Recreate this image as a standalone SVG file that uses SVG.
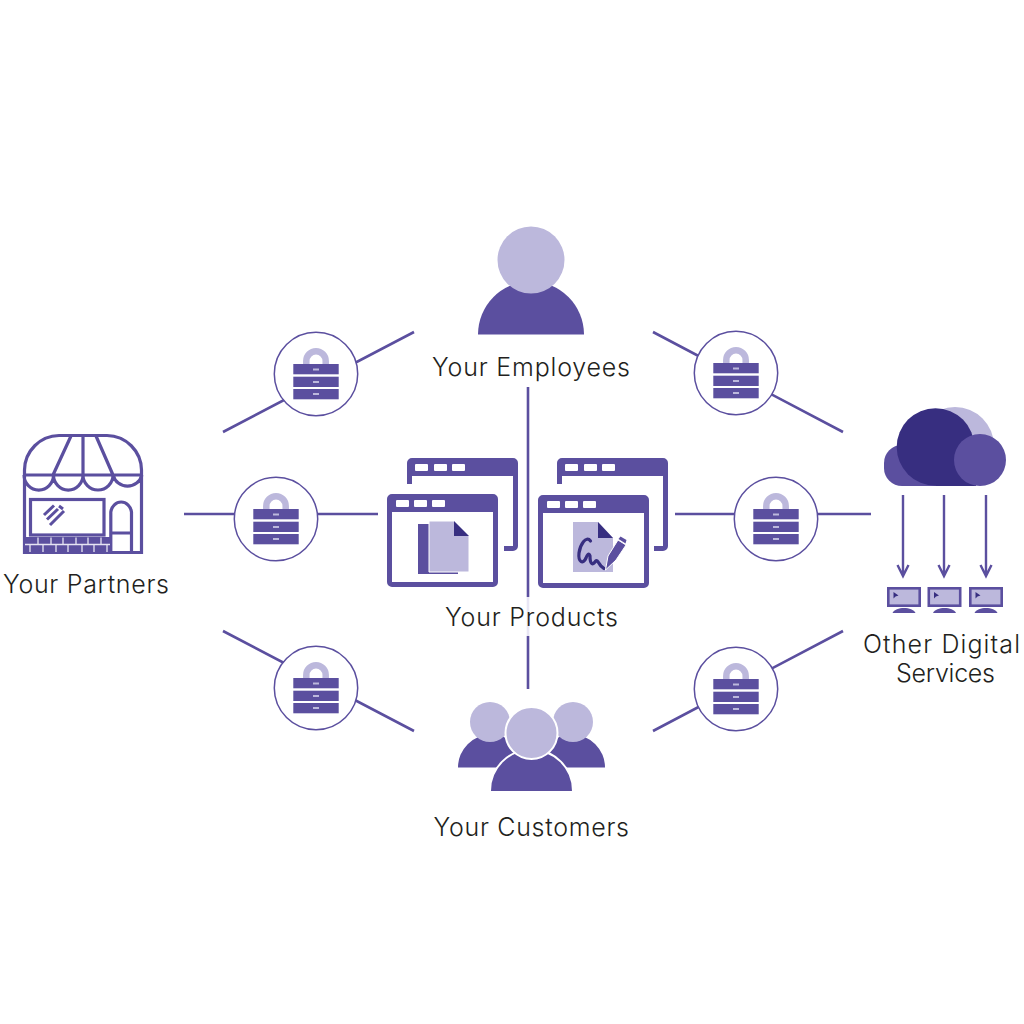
<svg xmlns="http://www.w3.org/2000/svg" width="1024" height="1024" viewBox="0 0 1024 1024">
<style>
.m{fill:#5b4f9f}.l{fill:#bcb8dc}.d{fill:#372e80}.w{fill:#fff}
.c{fill:none;stroke:#5b4f9f;stroke-width:2.600}
.s{fill:none;stroke:#5b4f9f;stroke-width:3.200}
.r{fill:#fff;stroke:#5b4f9f;stroke-width:1.500}
.t{font-family:"Inter","Liberation Sans",sans-serif;font-weight:300;font-size:25px;fill:#231f20;text-anchor:start}
</style>
<defs>
<g id="lock">
<path d="M-9.700 -4V-13A9.700 9.700 0 0 1 9.700 -13V-4" fill="none" stroke="#bcb8dc" stroke-width="6.500"/>
<rect class="m" x="-22.700" y="-10" width="45.400" height="10.300"/><rect class="m" x="-22.700" y="2.700" width="45.400" height="10.300"/><rect class="m" x="-22.700" y="15" width="45.400" height="10.300"/>
<rect class="l" x="-3" y="-5.500" width="6" height="2"/><rect class="l" x="-3" y="7" width="6" height="2"/><rect class="l" x="-3" y="19" width="6" height="2"/>
</g>
<g id="win">
<path class="m" fill-rule="evenodd" d="M5 0H106a5 5 0 0 1 5 5V88a5 5 0 0 1 -5 5H5a5 5 0 0 1 -5 -5V5a5 5 0 0 1 5 -5ZM5 18V88H106V18Z"/>
<rect class="w" x="9" y="6" width="13" height="7" rx="1"/><rect class="w" x="27" y="6" width="13" height="7" rx="1"/><rect class="w" x="45" y="6" width="13" height="7" rx="1"/>
</g>
<g id="winb">
<path class="m" d="M0 26V5a5 5 0 0 1 5 -5H106a5 5 0 0 1 5 5V88a5 5 0 0 1 -5 5H97V88H106V18H5V26Z"/>
<rect class="w" x="8" y="6" width="13" height="7" rx="1"/><rect class="w" x="27" y="6" width="13" height="7" rx="1"/><rect class="w" x="45" y="6" width="13" height="7" rx="1"/>
</g>
<g id="mon">
<rect x="1.300" y="1.300" width="31.400" height="17.400" fill="#bcb8dc" stroke="#5b4f9f" stroke-width="2.600"/>
<path class="d" d="M6.500 5V11.500L8.500 9.500L11.500 8.500Z"/>
<path class="m" d="M5.500 26C7 22.500 12 21 17 21S27 22.500 28.500 26Z"/>
</g>
</defs>
<rect width="1024" height="1024" fill="#fff"/>
<g id="connectors" class="c">
<path d="M223 432L414 332M653 332L843 432M223 631L414 731M653 731L843 631M184 514H378M675 514H871M528 387V597M528 636V689"/>
<path d="M528 597V636" style="stroke:#e8e6f4"/>
<path d="M903 495V575M944 495V575M986 495V575M897.500 565L903 576L908.500 565M938.500 565L944 576L949.500 565M980.500 565L986 576L991.500 565" style="stroke-width:2.400"/>
</g>
<g id="lock-nw"><circle class="r" cx="316" cy="374" r="41.700"/><use href="#lock" x="316" y="374"/></g>
<g id="lock-ne"><circle class="r" cx="736" cy="373" r="41.700"/><use href="#lock" x="736" y="373"/></g>
<g id="lock-w"><circle class="r" cx="276" cy="519" r="41.700"/><use href="#lock" x="276" y="519"/></g>
<g id="lock-e"><circle class="r" cx="776" cy="519" r="41.700"/><use href="#lock" x="776" y="519"/></g>
<g id="lock-sw"><circle class="r" cx="316" cy="688" r="41.700"/><use href="#lock" x="316" y="688"/></g>
<g id="lock-se"><circle class="r" cx="736" cy="689" r="41.700"/><use href="#lock" x="736" y="689"/></g>
<g id="employees">
<path class="m" d="M478 334.500A53 53 0 0 1 584 334.500Z"/>
<circle class="l" cx="531" cy="260" r="33.500"/>
<text class="t" x="432" y="375.500" textLength="198">Your Employees</text>
</g>
<g id="customers">
<path class="m" d="M458 767.500A33 33 0 0 1 524 767.500ZM539 767.500A33 33 0 0 1 605 767.500Z"/>
<circle class="l" cx="490" cy="722" r="20"/><circle class="l" cx="573" cy="722" r="20"/>
<path class="m" stroke="#fff" stroke-width="2" d="M490 792V791A41.500 41.500 0 0 1 573 791V792Z"/>
<circle class="l" cx="531.500" cy="733" r="26" stroke="#fff" stroke-width="2"/>
<text class="t" x="433.500" y="835.500" textLength="195.500">Your Customers</text>
</g>
<g id="partners">
<path class="s" d="M24.500 552.500V470A35 35 0 0 1 59 435.500H107A35 35 0 0 1 141.500 470V552.500ZM24 475H142M83 435V475M71 436L53 475M96 436L113 475M24 475A14.700 15 0 0 0 53.500 475A14.700 15 0 0 0 83 475A15 15 0 0 0 113 475A15 15 0 0 0 142 475M110.800 552V512A10.500 12 0 0 1 131.500 512V552M110.800 533H131.500"/>
<rect class="s" x="30.500" y="499.500" width="73.500" height="35.500"/>
<path d="M44 515L54 505.500M47 519.500L58 509M50 525L64 511M59 506L63 509" stroke="#5b4f9f" stroke-width="3" fill="none"/>
<rect class="m" x="25" y="537" width="85" height="15"/>
<path d="M25 544.500H110M38 537.500V544M51 537.500V544M63 537.500V544M76 537.500V544M88 537.500V544M101 537.500V544M30 545V552M43 545V552M56 545V552M68 545V552M82 545V552M94 545V552M107 545V552" stroke="#e6e4f3" stroke-width="1.300"/>
<text class="t" x="3" y="592.500" textLength="166">Your Partners</text>
</g>
<g id="products">
<use href="#winb" x="407" y="458"/>
<use href="#win" x="387" y="494"/>
<rect class="m" x="418" y="524" width="40" height="50"/>
<path class="l" stroke="#fff" stroke-width="1" d="M429 521H454L469 536V572H429Z"/>
<path class="d" d="M454 521L469 536H454Z"/>
<use href="#winb" x="557" y="458"/>
<use href="#win" x="538" y="495"/>
<path class="l" d="M573 522H598L613 538V572H573Z"/>
<path class="d" d="M598 522L613 538H598Z"/>
<path d="M590.500 541C586 535 580 545 579 553C578 562 583 565 586 558C587 555 589 552 590 556C590 563 592 566 595 562C597 558 599 564 601 566L604 568.500" fill="none" stroke="#372e80" stroke-width="3.200" stroke-linecap="round"/>
<path d="M605.500 570L608 556L618 540L626 545L616 560Z" fill="#5b4f9f" stroke="#fff" stroke-width="1"/>
<path d="M618.500 539L620.500 536.500L626.500 540L625.500 543.500Z" class="m"/>
<text class="t" x="445" y="626" textLength="173">Your Products</text>
</g>
<g id="digital-services">
<circle class="l" cx="955" cy="446" r="39"/>
<path class="m" d="M902 445H965V486H902A18 18 0 0 1 884 468V463A18 18 0 0 1 902 445Z"/>
<circle class="d" cx="935.500" cy="447" r="38.800"/>
<rect class="d" x="936" y="470" width="40" height="16"/>
<circle class="m" cx="980" cy="460" r="26"/>
<use href="#mon" x="887" y="587"/><use href="#mon" x="927.500" y="587"/><use href="#mon" x="969" y="587"/>
<text class="t" x="863" y="653" textLength="157">Other Digital</text>
<text class="t" x="896" y="682" textLength="99">Services</text>
</g>
</svg>
